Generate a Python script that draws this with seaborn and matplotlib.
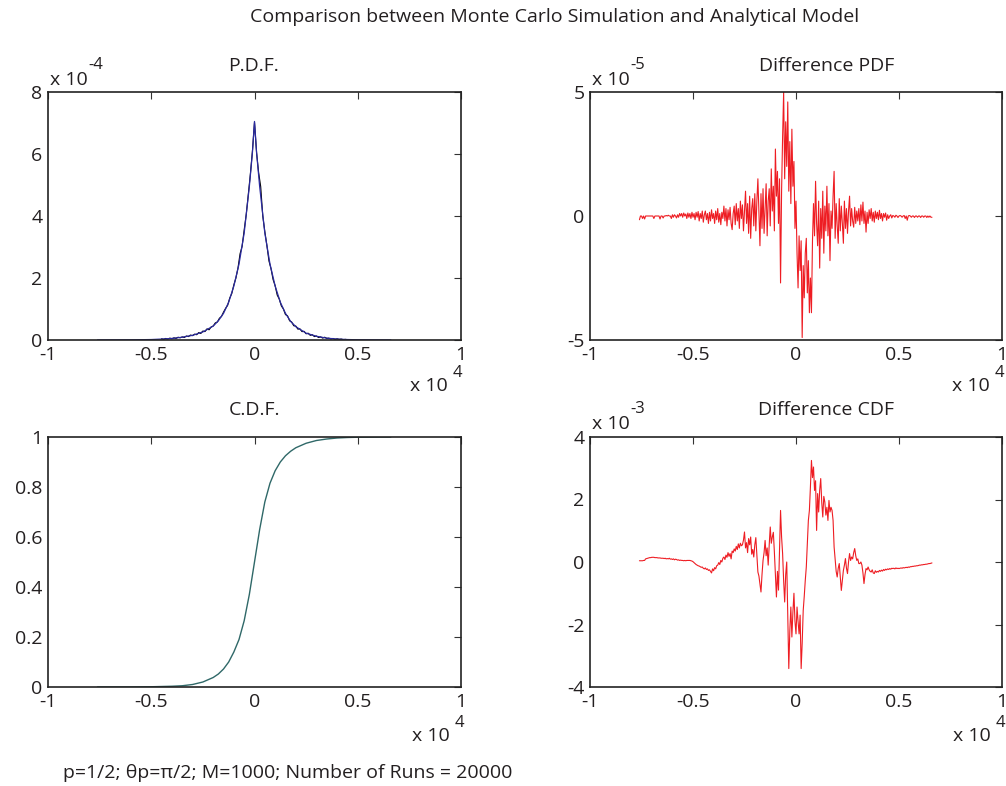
import numpy as np
import matplotlib
matplotlib.use("Agg")
import matplotlib.pyplot as plt
import seaborn as sns

# ---------------- data (x in units of 1e4) ----------------
# P.D.F. analytical model (values in 1e-4)
pdf_model_x = [-0.76, -0.7, -0.6, -0.5, -0.45, -0.4, -0.35, -0.3, -0.25, -0.2, -0.175, -0.15,
               -0.125, -0.1, -0.075, -0.05, -0.025, -0.01, 0.0, 0.01, 0.025, 0.05, 0.075, 0.1,
               0.125, 0.15, 0.175, 0.2, 0.25, 0.3, 0.35, 0.4, 0.45, 0.5, 0.6, 0.66]
pdf_model_y = [0.0, 0.002, 0.005, 0.015, 0.03, 0.05, 0.09, 0.15, 0.26, 0.45, 0.62, 0.86,
               1.22, 1.74, 2.45, 3.45, 4.95, 6.05, 7.05, 6.05, 4.95, 3.45, 2.45, 1.74,
               1.22, 0.86, 0.60, 0.43, 0.22, 0.12, 0.06, 0.03, 0.015, 0.008, 0.002, 0.0]

# P.D.F. Monte Carlo simulation (values in 1e-4), grid -0.45 .. 0.45 step 0.01
pdf_mc_y = [0.04, 0.02, 0.05, 0.03, 0.06, 0.04, 0.07, 0.05, 0.09, 0.07,
            0.10, 0.08, 0.13, 0.11, 0.16, 0.14, 0.19, 0.17, 0.24, 0.21,
            0.29, 0.27, 0.36, 0.33, 0.42, 0.45, 0.55, 0.58, 0.70, 0.76,
            0.90, 1.02, 1.12, 1.35, 1.50, 1.78, 2.00, 2.32, 2.78, 3.02,
            3.55, 4.05, 4.70, 5.35, 6.10, 7.02, 6.05, 5.40, 4.95, 4.00,
            3.50, 3.05, 2.55, 2.30, 1.95, 1.75, 1.45, 1.32, 1.10, 1.00,
            0.82, 0.78, 0.62, 0.58, 0.46, 0.45, 0.35, 0.36, 0.27, 0.28,
            0.20, 0.22, 0.15, 0.17, 0.11, 0.13, 0.08, 0.10, 0.06, 0.09,
            0.05, 0.06, 0.03, 0.05, 0.02, 0.04, 0.02, 0.03, 0.01, 0.02, 0.01]
pdf_mc_x = np.linspace(-0.45, 0.45, len(pdf_mc_y))

# C.D.F.
cdf_x = [-0.76, -0.6, -0.5, -0.45, -0.4, -0.35, -0.3, -0.25, -0.2, -0.175, -0.15, -0.125,
         -0.1, -0.075, -0.05, -0.025, -0.0125, 0.0, 0.0125, 0.025, 0.05, 0.075, 0.1, 0.125,
         0.15, 0.175, 0.2, 0.25, 0.3, 0.35, 0.4, 0.45, 0.5, 0.6, 0.66]
cdf_y = [0.0, 0.0, 0.001, 0.002, 0.003, 0.005, 0.01, 0.02, 0.038, 0.052, 0.072, 0.10,
         0.14, 0.19, 0.265, 0.37, 0.435, 0.5, 0.565, 0.63, 0.74, 0.815, 0.865, 0.90,
         0.925, 0.943, 0.957, 0.975, 0.986, 0.992, 0.996, 0.998, 0.999, 1.0, 1.0]

# Difference PDF (values in 1e-5), grid -0.76 .. 0.66 step 0.005
diff_pdf = [
    -0.15, 0.0, 0.0, -0.1, 0.0, -0.12, 0.0, 0.0, 0.0, 0.0,
    0.0, 0.0, 0.0, 0.0, -0.1, 0.0, 0.0, 0.0, 0.0, 0.0,
    -0.12, 0.0, 0.0, -0.08, 0.0, 0.0, 0.02, 0.0, 0.03, 0.0,
    0.0, -0.1, 0.05, -0.05, 0.05, 0.0, -0.08, 0.05, -0.05, 0.1,
    0.0, 0.1, -0.05, 0.12, 0.0, 0.08, -0.1, 0.12, -0.05, 0.1,
    -0.1, 0.15, -0.05,
    0.1, -0.15, 0.15, -0.05, 0.18, -0.2, 0.1, -0.1, 0.2, -0.25,
    0.05, 0.2, -0.15, 0.1, -0.3, 0.15, -0.2, 0.25, -0.1, 0.1,
    -0.3, 0.2, -0.15, 0.3, -0.25, 0.1, -0.35, 0.15, -0.1, 0.4,
    -0.2, 0.3, -0.4, 0.25, -0.15, 0.35, -0.3, -0.55, 0.1, 0.4,
    -0.35, 0.5, -0.2, 0.3, -0.5, 0.6, -0.1, 0.45, -0.6, 0.2,
    1.0, -0.3, 0.5, -0.7, 0.8, -0.9, 0.3, 0.7, -0.4, 0.9,
    -0.6, 0.6, 1.5, 0.2, -1.2, 0.9, -0.5, 1.1, -0.7, 0.3,
    1.3, -0.8, 0.6, 1.1, -0.4, 1.9, 0.2, 1.2, -0.6, 2.7,
    0.8, 1.8, -0.3, 1.5,
    -2.7, 1.0, 3.2, 5.0, 1.5, 3.8, 2.0, 4.6, 1.0, 3.0,
    0.5, 3.5, 1.2, 2.2, -0.5, 0.6,
    -1.5, -2.9, -0.8, -2.2, -1.0, -4.9, -2.0, -3.3, -1.5, -0.9,
    -3.1, -1.8, -3.9, -2.5, -3.9, -1.0, 0.5, -0.8, 1.4, -0.3,
    -1.2, 0.6, -2.1, 0.3, -0.9, 1.0, -1.5, 0.4, -0.6, 1.2,
    -0.8, 0.5, -1.8, 0.2, -0.5, 0.8, 1.8, -0.9, 0.5, -0.4,
    -1.1, 0.7, -0.6, 0.4, -0.3, -1.1, 0.6, -0.5, 0.3, -0.7,
    0.2, 0.8, -0.4, 0.3, -0.2, -0.45, 0.35, -0.3, 0.2, -0.2,
    0.3, -0.35, 0.45, -0.2, 0.56, -0.3, 0.2, -0.65, 0.15, -0.3,
    0.25, -0.1, 0.3, -0.2, 0.15, -0.25, 0.2, -0.1, 0.15, -0.15,
    0.23, -0.1, 0.1, -0.2, 0.1, -0.05, 0.12, -0.17, 0.05, -0.1,
    0.0, 0.05, -0.08, 0.02, 0.0, -0.05, 0.03, 0.0, -0.06, 0.0,
    0.02, 0.0, -0.05, 0.0, 0.02, -0.1, 0.0, -0.17, 0.0, 0.02,
    0.0, -0.05, 0.0, 0.0, -0.06, 0.0, 0.0, -0.05, 0.0, 0.0,
    -0.06, 0.0, 0.0, -0.05, 0.0, 0.0, -0.06, 0.0, -0.05, 0.0,
    -0.05, -0.05]

# Difference CDF (values in 1e-3), same grid
diff_cdf = [
    0.04, 0.04, 0.04, 0.04, 0.05, 0.05, 0.10, 0.11, 0.12, 0.13,
    0.14, 0.14, 0.15, 0.15, 0.15, 0.14, 0.14, 0.14, 0.13, 0.13,
    0.13, 0.12, 0.12, 0.12, 0.11, 0.12, 0.10, 0.11, 0.10, 0.12,
    0.09, 0.10, 0.08, 0.10, 0.07, 0.09, 0.08, 0.06, 0.07, 0.05,
    0.06, 0.05, 0.05, 0.04, 0.05, 0.04, 0.05, 0.05, 0.05, 0.05,
    0.04, 0.03, 0.01,
    -0.02, -0.05, -0.08, -0.10, -0.12, -0.13, -0.15, -0.17, -0.16, -0.20,
    -0.22, -0.19, -0.24, -0.22, -0.27, -0.25, -0.30, -0.35, -0.22, -0.28,
    -0.18, -0.22, -0.12, -0.10, -0.02, -0.08, 0.05, 0.0, 0.12, 0.16,
    0.08, 0.22, 0.15, 0.30, 0.18, 0.27, 0.10, 0.35, 0.30, 0.42,
    0.35, 0.50, 0.40, 0.58, 0.45, 0.60, 0.52, 0.55, 0.70, 0.96,
    0.45, 0.62, 0.30, 0.75, 0.55, 0.80, 0.25, 0.40, 0.16, 0.55,
    0.78, 0.20, -0.32, -0.45, -0.70, -0.96, -0.40, 0.05, 0.30, 0.69,
    0.20, 0.45, -0.10, 0.55, 1.12, 0.60, 0.80, 0.95, 0.32, -0.40,
    -1.12, -0.30, -0.90, 0.40,
    1.65, 0.80, 0.27, -0.60, -1.28, -0.40, 0.0, -1.76, -3.41, -2.2,
    -1.44, -2.4, -1.6, -1.0, -1.9, -2.3,
    -1.44, -1.9, -2.3, -1.7, -3.41, -2.6, -1.55, -1.1, -0.59, -0.16,
    0.6, 1.33, 1.65, 2.4, 3.25, 2.7, 3.04, 2.29, 2.6, 1.01,
    2.19, 1.6, 2.3, 2.67, 1.9, 1.44, 2.1, 1.92, 1.5, 1.75,
    1.33, 1.97, 1.6, 1.75, 1.65, 1.33, 0.48, 0.1, -0.3, -0.48,
    -0.2, -0.05, -0.5, -0.91, -0.6, -0.27, -0.1, 0.11, -0.2, -0.37,
    0.0, 0.27, 0.05, 0.16, 0.1, 0.30, 0.43, 0.2, 0.05, 0.1,
    -0.05, -0.05, 0.0, -0.1, -0.35, -0.69, -0.4, -0.21, -0.25, -0.16,
    -0.25, -0.30, -0.32, -0.25, -0.35, -0.37, -0.28, -0.33, -0.30, -0.32,
    -0.27, -0.30, -0.26, -0.29, -0.24, -0.27, -0.23, -0.25, -0.22, -0.24,
    -0.21, -0.23, -0.20, -0.21, -0.20, -0.22, -0.19, -0.21, -0.20, -0.21,
    -0.20, -0.19, -0.20, -0.18, -0.19, -0.18, -0.17, -0.18, -0.16, -0.17,
    -0.15, -0.15, -0.14, -0.14, -0.13, -0.13, -0.12, -0.12, -0.11, -0.10,
    -0.10, -0.09, -0.09, -0.08, -0.08, -0.07, -0.07, -0.06, -0.05, -0.05,
    -0.04, -0.03]
diff_x = np.linspace(-0.76, 0.66, len(diff_pdf))

x_ticks = [-1, -0.5, 0, 0.5, 1]
x_tick_labels = ["-1", "-0.5", "0", "0.5", "1"]
pdf_yticks = [0, 2, 4, 6, 8]
pdf_ytick_labels = ["0", "2", "4", "6", "8"]
dpdf_yticks = [-5, 0, 5]
dpdf_ytick_labels = ["-5", "0", "5"]
cdf_yticks = [0, 0.2, 0.4, 0.6, 0.8, 1]
cdf_ytick_labels = ["0", "0.2", "0.4", "0.6", "0.8", "1"]
dcdf_yticks = [-4, -2, 0, 2, 4]
dcdf_ytick_labels = ["-4", "-2", "0", "2", "4"]

main_title = "Comparison between Monte Carlo Simulation and Analytical Model"
footer = "p=1/2; θp=π/2; M=1000; Number of Runs = 20000"

# ---------------- figure ----------------
sns.set_theme(style="white")
plt.rcParams["font.family"] = ["Open Sans", "DejaVu Sans"]
FS = 14
TXT = "#231f20"
RED = "#ee1d23"

W, H = 1006, 786
fig = plt.figure(figsize=(W / 100, H / 100), dpi=100)


def axes_px(left, top, right, bottom):
    return fig.add_axes([left / W, 1 - bottom / H, (right - left) / W, (bottom - top) / H])


def ftext(x, y, s, **kw):
    kw.setdefault("fontsize", FS)
    kw.setdefault("color", TXT)
    fig.text(x / W, 1 - y / H, s, **kw)


def style(ax, yticks, ylabels, ylim):
    ax.set_xlim(-1, 1)
    ax.set_ylim(*ylim)
    ax.set_xticks(x_ticks)
    ax.set_xticklabels(x_tick_labels)
    ax.set_yticks(yticks)
    ax.set_yticklabels(ylabels)
    ax.tick_params(direction="in", length=5, width=0.8, top=True, right=True,
                   labelsize=FS, labelcolor=TXT, color="#333333", pad=4)
    for sp in ax.spines.values():
        sp.set_visible(True)
        sp.set_color("#222222")
        sp.set_linewidth(1.2)
    ax.set_xlabel("")
    ax.set_ylabel("")
    ax.grid(False)


ax1 = axes_px(48, 92, 461, 340)
ax2 = axes_px(590, 92, 1002, 340)
ax3 = axes_px(48, 437, 461, 687)
ax4 = axes_px(590, 437, 1002, 687)

sns.lineplot(x=pdf_mc_x, y=pdf_mc_y, ax=ax1, color="black", linewidth=0.8,
             estimator=None, sort=False)
sns.lineplot(x=pdf_model_x, y=pdf_model_y, ax=ax1, color="#2a2aa0", linewidth=0.9,
             estimator=None, sort=False)
style(ax1, pdf_yticks, pdf_ytick_labels, (0, 8))

sns.lineplot(x=diff_x, y=diff_pdf, ax=ax2, color=RED, linewidth=0.8,
             estimator=None, sort=False)
style(ax2, dpdf_yticks, dpdf_ytick_labels, (-5, 5))

sns.lineplot(x=cdf_x, y=cdf_y, ax=ax3, color="#2f6868", linewidth=1.0,
             estimator=None, sort=False)
style(ax3, cdf_yticks, cdf_ytick_labels, (0, 1))

sns.lineplot(x=diff_x, y=diff_cdf, ax=ax4, color=RED, linewidth=0.8,
             estimator=None, sort=False)
style(ax4, dcdf_yticks, dcdf_ytick_labels, (-4, 4))

# titles
ftext(555, 17, main_title, ha="center", va="center")
ftext(254, 66, "P.D.F.", ha="center", va="center")
ftext(827, 66, "Difference PDF", ha="center", va="center")
ftext(254, 410, "C.D.F.", ha="center", va="center")
ftext(826, 410, "Difference CDF", ha="center", va="center")

# exponent labels (y)
for (x0, y0, e) in [(48, 80, "-4"), (590, 80, "-5"), (590, 424, "-3")]:
    ftext(x0 + 2, y0, "x 10", ha="left", va="center")
    ftext(x0 + 40, y0 - 15, e, ha="left", va="center", fontsize=FS - 2)

# exponent labels (x)
for (x0, y0) in [(410, 386), (952, 386), (412, 736), (953, 736)]:
    ftext(x0, y0, "x 10", ha="left", va="center")
    ftext(x0 + 43, y0 - 13, "4", ha="left", va="center", fontsize=FS - 2)

ftext(63, 773, footer, ha="left", va="center")

fig.savefig("out.png", dpi=100)
